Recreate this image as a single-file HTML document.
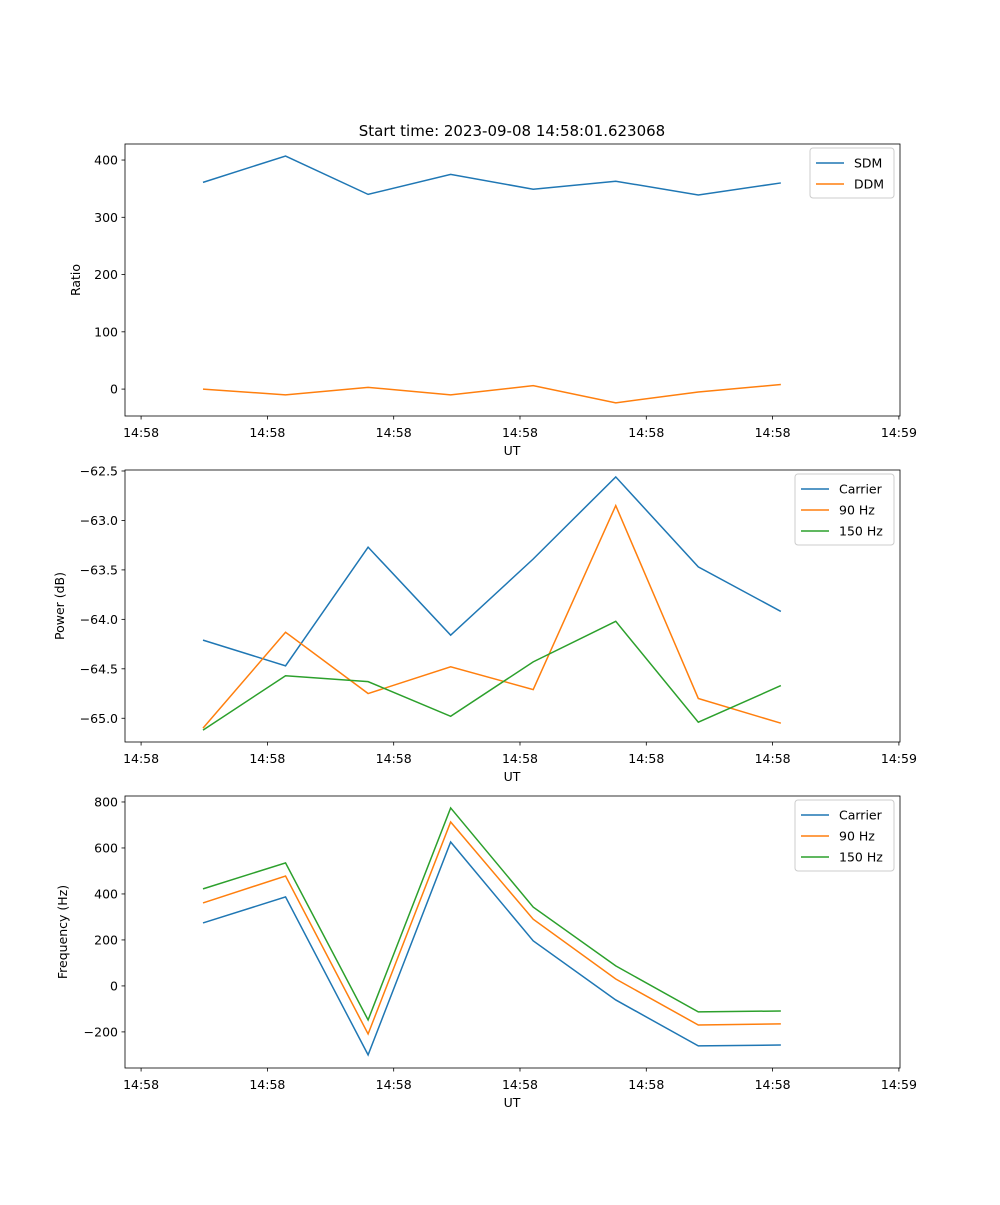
<!DOCTYPE html>
<html><head><meta charset="utf-8"><style>
body{margin:0;background:#fff;font-family:"Liberation Sans","DejaVu Sans",sans-serif}
svg text{font-family:"DejaVu Sans","Liberation Sans",sans-serif;font-size:12.5px;fill:#000}
</style></head><body>
<svg id="fig" width="1000" height="1200" viewBox="0 0 1000 1200"></svg>
<script>
const categories=[0,1,2,3,4,5,6,7];
const xTickVals=[-0.75,0.78,2.31,3.84,5.37,6.9,8.43];
const xTickLabels=["14:58","14:58","14:58","14:58","14:58","14:58","14:59"];
const sdm=[361,407,340,375,349,363,339,360];
const ddm=[0,-10,3,-10,6,-24,-5,8];
const pCarrier=[-64.21,-64.47,-63.27,-64.16,-63.39,-62.56,-63.47,-63.92];
const p90=[-65.10,-64.13,-64.75,-64.48,-64.71,-62.85,-64.80,-65.05];
const p150=[-65.12,-64.57,-64.63,-64.98,-64.43,-64.02,-65.04,-64.67];
const fCarrier=[274,387,-300,626,196,-61,-261,-257];
const f90=[361,478,-209,713,290,30,-170,-165];
const f150=[422,535,-148,774,343,87,-113,-109];
const ticks1=[0,100,200,300,400];
const ticks2=[-65.0,-64.5,-64.0,-63.5,-63.0,-62.5];
const ticks3=[-200,0,200,400,600,800];
const NS="http://www.w3.org/2000/svg";
const svg=document.getElementById('fig');
function mk(tag,attrs,parent){const e=document.createElementNS(NS,tag);for(const k in attrs)e.setAttribute(k,attrs[k]);(parent||svg).appendChild(e);return e;}
const L=125,R=900;
const xs=v=>203+v*82.55;
function panel(name,top,bot,ymin,ymax,yt,fmt,ylabel,series,legend,lg){
  const g=mk('g',{});
  
  
  const ys=v=>bot-(v-ymin)/(ymax-ymin)*(bot-top);
  yt.forEach(t=>{const y=ys(t);
    mk('line',{x1:L-3.5,x2:L,y1:y,y2:y,stroke:'#000','stroke-width':0.8},g);
    const tx=mk('text',{x:L-7,y:y+4.5,'text-anchor':'end'},g);tx.textContent=fmt(t);
    
    });
  xTickVals.forEach((t,i)=>{const x=xs(t);
    mk('line',{x1:x,x2:x,y1:bot,y2:bot+3.5,stroke:'#000','stroke-width':0.8},g);
    const tx=mk('text',{x:x,y:bot+21,'text-anchor':'middle'},g);tx.textContent=xTickLabels[i];
    
    });
  series.forEach(s=>{const p=mk('polyline',{points:s.d.map((v,i)=>xs(categories[i])+','+ys(v)).join(' '),fill:'none',stroke:s.c,'stroke-width':1.5},g);
    
    });
  mk('rect',{x:L,y:top,width:R-L,height:bot-top,fill:'none',stroke:'#000','stroke-width':0.8},g);
  const xl=mk('text',{x:512,y:bot+39,'text-anchor':'middle'},g);xl.textContent='UT';
  
  
  const yl=mk('text',{x:0,y:0,'text-anchor':'middle',transform:`translate(${lg.yx},${(top+bot)/2}) rotate(-90)`},g);yl.textContent=ylabel;
  
  
  const lgG=mk('g',{},g);
  
  
  mk('rect',{x:legend.x,y:top+4,width:R-6-legend.x,height:series.length*21+8,rx:3,fill:'#fff',stroke:'#ccc','stroke-width':1},lgG);
  series.forEach((s,i)=>{const y=top+19+i*21;
    mk('line',{x1:legend.x+6,x2:legend.x+34,y1:y,y2:y,stroke:s.c,'stroke-width':1.5},lgG);
    const t=mk('text',{x:legend.x+44,y:y+4.5},lgG);t.textContent=s.n;
    
    });
}
const B='#1f77b4',O='#ff7f0e',G='#2ca02c';
const title=mk('text',{x:512,y:136,'text-anchor':'middle',style:'font-size:15px'});title.textContent='Start time: 2023-09-08 14:58:01.623068';


panel('ratio-panel',144,416,-47,428,ticks1,v=>v.toString(),'Ratio',[{n:'SDM',d:sdm,c:B},{n:'DDM',d:ddm,c:O}],{x:810},{yx:80});
panel('power-panel',470,742,-65.24,-62.49,ticks2,v=>v.toFixed(1).replace('-','\u2212'),'Power (dB)',[{n:'Carrier',d:pCarrier,c:B},{n:'90 Hz',d:p90,c:O},{n:'150 Hz',d:p150,c:G}],{x:795},{yx:64});
panel('frequency-panel',796,1068,-357,826,ticks3,v=>v.toString().replace('-','\u2212'),'Frequency (Hz)',[{n:'Carrier',d:fCarrier,c:B},{n:'90 Hz',d:f90,c:O},{n:'150 Hz',d:f150,c:G}],{x:795},{yx:67});
</script>
</body></html>
